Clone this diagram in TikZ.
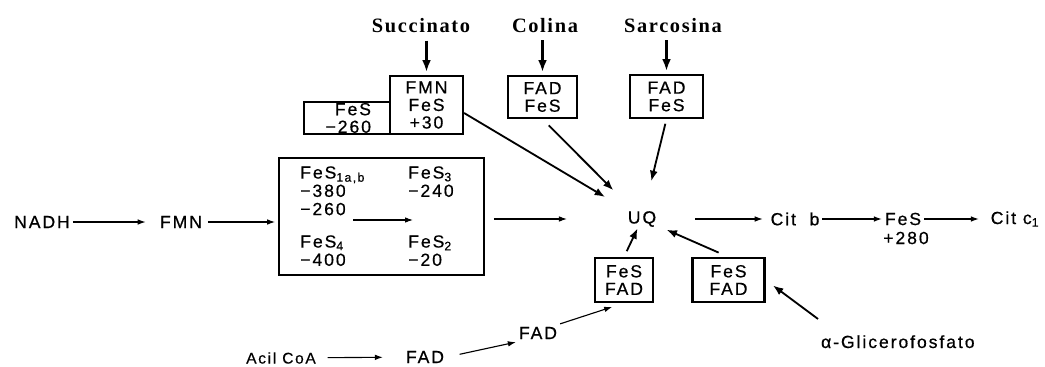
\documentclass[tikz,border=0pt]{standalone}
\usepackage{fontspec}
\setmainfont{Liberation Sans}[LetterSpace=11, FakeBold=0.6]
\newfontfamily\donorfont{Liberation Serif}[LetterSpace=8]
\usetikzlibrary{arrows.meta, positioning}

\begin{document}
\begin{tikzpicture}[
  x=0.025cm, y=-0.025cm,
  species/.style={
    inner sep=2pt,
    font=\fontsize{12.5}{13}\selectfont
  },
  carrier/.style={
    draw=black,
    line width=1.5pt,
    inner sep=0pt,
    align=center,
    font=\fontsize{12.5}{12.5}\selectfont
  },
  inbox/.style={
    inner sep=0pt,
    align=left,
    anchor=north west,
    font=\fontsize{12.5}{13}\selectfont
  },
  donor/.style={
    inner sep=2pt,
    font=\fontsize{14.5}{16}\selectfont\donorfont\bfseries
  },
  arrow/.style={-{Latex[length=2mm, width=1.4mm]}, line width=0.8pt},
  feed/.style={-{Latex[length=2.6mm, width=2mm]}, line width=1.3pt},
  supply/.style={-{Latex[length=3mm, width=2.2mm]}, line width=2pt}
]
  \useasboundingbox (0,0) rectangle (1045,367);

  % donors on top
  \node[donor] (succ) at (421,26) {Succinato};
  \node[donor] (colina) at (545,26) {Colina};
  \node[donor] (sarc) at (673,26) {Sarcosina};

  \node[carrier, minimum width=2.15cm, minimum height=0.8cm,
    text width=1.2cm, align=right] (fesbox) at (347,118) {FeS\\−260};
  \node[carrier, minimum width=1.825cm, minimum height=1.45cm] (fmnbox) at (426.5,105) {FMN\\FeS\\+30};
  \node[carrier, minimum width=1.725cm, minimum height=1.05cm] (colbox) at (542.5,97) {FAD\\FeS};
  \node[carrier, minimum width=1.825cm, minimum height=1.075cm] (sarbox) at (666.5,96.5) {FAD\\FeS};

  \draw[supply, shorten <=3pt, shorten >=2pt] (fmnbox.north |- succ.south) -- (fmnbox.north);
  \draw[supply, shorten <=3pt, shorten >=2pt] (colbox.north |- colina.south) -- (colbox.north);
  \draw[supply, shorten <=3pt, shorten >=2pt] (sarbox.north |- sarc.south) -- (sarbox.north);

  % main chain
  \node[species] (nadh) at (42,222) {NADH};
  \node[species] (fmn) at (181,222) {FMN};
  \node[carrier, minimum width=5.125cm, minimum height=2.925cm] (complexI) at (381.5,216.5) {};
  \node[inbox] (fesA) at (300,166) {FeS\textsubscript{1a,b}\\−380\\−260};
  \node[inbox] (fesB) at (408,166) {FeS\textsubscript{3}\\−240};
  \node[inbox] (fesC) at (300,235) {FeS\textsubscript{4}\\−400};
  \node[inbox] (fesD) at (408,235) {FeS\textsubscript{2}\\−20};
  \coordinate (innerfrom) at (353,220);
  \coordinate (innerto) at (413,220);

  \node[species] (uq) at (642,219) {UQ};
  \node[species] (citb) at (795,219) {Cit\ \ b};
  \node[species] (fesr) at (903,219) {FeS};
  \node[species] (potr) at (906,238) {+280};
  \node[species] (citc) at (1015,219) {Cit c\textsubscript{1}};

  \draw[arrow, shorten >=8pt] (nadh) -- (fmn);
  \draw[arrow, shorten <=2pt, shorten >=2pt] (fmn) -- (fmn -| complexI.west);
  \draw[arrow] (innerfrom) -- (innerto);
  \draw[arrow, shorten <=0.22cm, shorten >=1.875cm] (complexI.east |- uq.center) -- (uq.center);
  \draw[arrow, shorten <=1.325cm, shorten >=0.12cm] (uq.center) -- (citb);
  \draw[arrow] (citb) -- (fesr);
  \draw[arrow, shorten >=0.22cm] (fesr) -- (citc);

  % into UQ
  \draw[feed, shorten >=1.075cm] ([yshift=-0.2cm]fmnbox.east) -- (uq.center);
  \draw[feed, shorten <=0.22cm, shorten >=1.015cm] (colbox.south) -- (uq.center);
  \draw[feed, shorten <=0.12cm, shorten >=0.975cm] (sarbox.south) -- (uq.center);

  % lower branches
  \node[carrier, minimum width=1.45cm, minimum height=1.1cm] (lowleft) at (624,280) {FeS\\FAD};
  \node[carrier, minimum width=1.8cm, minimum height=1.1cm] (lowright) at (728.5,280) {FeS\\FAD};
  \draw[feed, shorten <=0.16cm, shorten >=0.26cm] (lowleft.north) -- (uq.center);
  \draw[feed, shorten <=0.27cm, shorten >=0.67cm] (lowright.north) -- (uq.center);

  \node[species, font=\fontsize{11}{12}\selectfont] (acil) at (281,358) {Acil CoA};
  \node[species] (fadacil) at (425,357) {FAD};
  \node[species] (fadetf) at (538,333) {FAD};
  \node[species, anchor=base west] (glicero) at (818,348) {α-Glicerofosfato};

  \draw[arrow, shorten <=0.22cm, shorten >=0.5cm] (acil) -- (fadacil);
  \draw[arrow, shorten <=0.32cm] (fadacil.east) -- (fadetf.south west);
  \draw[arrow, shorten >=0.31cm] (fadetf.north east) -- (lowleft.south);
  \draw[feed, shorten >=0.23cm] ([yshift=0.33cm]glicero.north west) -- (lowright.east);
\end{tikzpicture}
\end{document}
